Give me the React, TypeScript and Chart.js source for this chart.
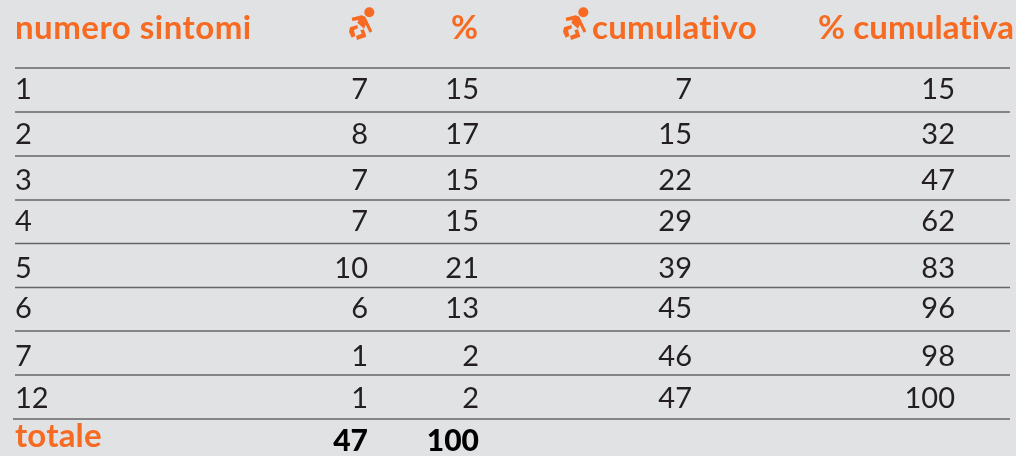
import React, { useEffect, useRef } from "react";
import { Chart, registerables } from "chart.js";

Chart.register(...registerables);

const headers = ["numero sintomi", "%", "cumulativo", "% cumulativa"];
const symptoms = ["1", "2", "3", "4", "5", "6", "7", "12"];
const counts = [7, 8, 7, 7, 10, 6, 1, 1];
const percents = [15, 17, 15, 15, 21, 13, 2, 2];
const cumulative = [7, 15, 22, 29, 39, 45, 46, 47];
const cumulativePercents = [15, 32, 47, 62, 83, 96, 98, 100];
const totalLabel = "totale";
const totalCount = 47;
const totalPercent = 100;

// layout, in chart units (1 unit = 1 px)
const rowBaselines = [99, 143.5, 190, 230.5, 278, 318, 365.5, 408];
const ruleYs = [68, 112, 156, 200, 243.5, 287.5, 331, 375, 419];
const COL = { sym: 15, count: 368, pct: 479, cum: 692, cumPct: 955 };

const ORANGE = "#f66a21";
const INK = "#231f20";
const FONT = "Lato";

function poly(ctx: CanvasRenderingContext2D, pts: number[][]) {
  ctx.beginPath();
  pts.forEach(([a, b], i) => (i ? ctx.lineTo(a, b) : ctx.moveTo(a, b)));
  ctx.closePath();
  ctx.fill();
}

function drawBaby(ctx: CanvasRenderingContext2D, x: number) {
  ctx.save();
  ctx.translate(x, 0);
  ctx.scale(1 / 3, 1 / 3);
  ctx.fillStyle = ORANGE;
  ctx.beginPath();
  ctx.arc(148, 37, 15, 0, Math.PI * 2);
  ctx.fill();
  poly(ctx, [[95, 53], [125, 46], [136, 50], [157, 94], [149, 98], [137, 74], [132, 86], [112, 68], [116, 60], [97, 63]]);
  poly(ctx, [[90, 82], [112, 75], [114, 85], [102, 90], [106, 108], [95, 113], [87, 95]]);
  poly(ctx, [[108, 108], [125, 101], [121, 91], [132, 88], [139, 110], [111, 120]]);
  ctx.restore();
}

const tablePlugin = {
  id: "tableText",
  afterDatasetsDraw(chart: any) {
    const ctx: CanvasRenderingContext2D = chart.ctx;
    const x = chart.scales.x;
    const y = chart.scales.y;
    const put = (s: string, px: number, py: number, align: CanvasTextAlign, font: string, color: string, spacing = "0px") => {
      ctx.font = font;
      (ctx as any).letterSpacing = spacing;
      ctx.fillStyle = color;
      ctx.textAlign = align;
      ctx.textBaseline = "alphabetic";
      ctx.fillText(s, x.getPixelForValue(px), y.getPixelForValue(py));
    };
    ctx.save();
    const head = `bold 33px ${FONT}`;
    const body = `29px ${FONT}`;
    put(headers[0], COL.sym, 39, "left", head, ORANGE, "0.5px");
    put(headers[1], 478, 39, "right", head, ORANGE);
    put(headers[2], 592, 39, "left", head, ORANGE, "0.3px");
    put(headers[3], 818, 39, "left", head, ORANGE, "0.1px");
    drawBaby(ctx, x.getPixelForValue(320));
    drawBaby(ctx, x.getPixelForValue(534));

    symptoms.forEach((s, i) => {
      const b = rowBaselines[i];
      put(s, COL.sym, b, "left", body, INK);
      put(String(counts[i]), COL.count, b, "right", body, INK);
      put(String(percents[i]), COL.pct, b, "right", body, INK);
      put(String(cumulative[i]), COL.cum, b, "right", body, INK);
      put(String(cumulativePercents[i]), COL.cumPct, b, "right", body, INK);
    });
    put(totalLabel, 15, 447, "left", head, ORANGE, "0.2px");
    const bold = `900 30px ${FONT}`;
    put(String(totalCount), COL.count, 451, "right", bold, "#000");
    put(String(totalPercent), COL.pct, 451, "right", bold, "#000");
    ctx.restore();
  },
};

export default function App() {
  const ref = useRef<HTMLCanvasElement>(null);
  useEffect(() => {
    document.body.style.margin = "0";
    document.body.style.background = "#e1e2e4";
    const chart = new Chart(ref.current!, {
      type: "line",
      data: {
        datasets: ruleYs.map((r, i) => ({
          data: [
            { x: i === 8 ? 13 : 15, y: r },
            { x: 1010, y: r },
          ],
          borderColor: "#666567",
          borderWidth: 1.6,
          pointRadius: 0,
        })),
      },
      options: {
        responsive: false,
        animation: false,
        layout: { padding: 0 },
        plugins: { legend: { display: false }, tooltip: { enabled: false }, title: { display: false } },
        scales: {
          x: { type: "linear", min: 0, max: 1016, display: false },
          y: { type: "linear", min: 0, max: 456, reverse: true, display: false },
        },
      },
      plugins: [tablePlugin],
    } as any);
    return () => chart.destroy();
  }, []);
  return (
    <div style={{ width: 1016, height: 456, background: "#e1e2e4" }}>
      <canvas ref={ref} width={1016} height={456} style={{ display: "block" }} />
    </div>
  );
}
